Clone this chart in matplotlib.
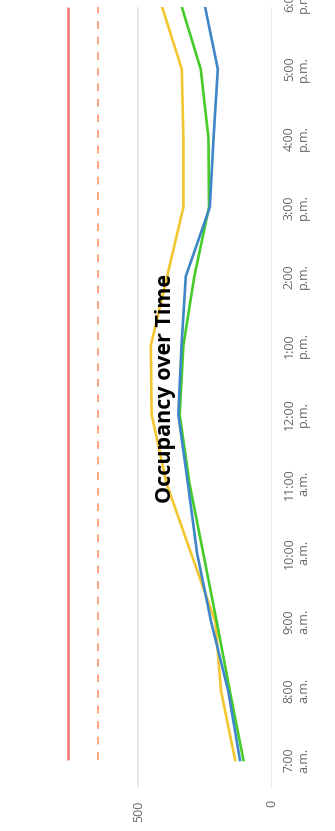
import matplotlib
matplotlib.use("Agg")
import matplotlib.pyplot as plt
from matplotlib.patches import Rectangle

# ---- data ----
hours = [7, 8, 9, 10, 11, 12, 13, 14, 15, 16, 17, 18]
time_labels = ["7:00\na.m.", "8:00\na.m.", "9:00\na.m.", "10:00\na.m.", "11:00\na.m.",
               "12:00\np.m.", "1:00\np.m.", "2:00\np.m.", "3:00\np.m.", "4:00\np.m.",
               "5:00\np.m.", "6:00\np.m."]
yellow = [137, 190, 211, 303, 394, 450, 453, 392, 331, 331, 337, 419]
blue = [119, 163, 227, 280, 314, 350, 338, 322, 232, 218, 202, 255]
green = [106, 157, 206, 257, 308, 345, 331, 290, 235, 237, 266, 345]
capacity = 765
threshold = 650
value_ticks = [0, 500]
value_tick_labels = ["0", "500"]
title = "Occupancy over Time"

W, H = 335, 831
fig = plt.figure(figsize=(W / 100, H / 100), dpi=100)

# layout in pixels
ax_right_px = 271.7
px_per_500 = 133.4
ax_bottom_px = 787
hour_px = 760 / 11.0
top_clip_px = 7

ax = fig.add_axes([0, 1 - ax_bottom_px / H, ax_right_px / W, ax_bottom_px / H])
xmax = ax_right_px / px_per_500 * 500
ax.set_xlim(xmax, 0)
ybot = hours[0] - (ax_bottom_px - 760) / hour_px
ytop = hours[-1]
ax.set_ylim(ybot, ytop)
vis_top = ytop - top_clip_px / hour_px

for s in ax.spines.values():
    s.set_visible(False)

# gridlines
for v in value_ticks:
    ax.vlines(v, ybot, vis_top, color="#e5e5e5", lw=1.2, zorder=0)

# reference lines
ax.vlines(capacity, hours[0], vis_top, color="#f07575", lw=1.8, zorder=2)
ax.vlines(threshold, hours[0], vis_top, color="#f9a57e", lw=1.4,
          linestyles=(0, (4, 4)), zorder=2)

clip = Rectangle((0, ybot), xmax, vis_top - ybot, transform=ax.transData)
for vals, col in [(yellow, "#f2c62f"), (green, "#45cc2a"), (blue, "#3f86c8")]:
    ln, = ax.plot(vals, hours, color=col, lw=1.9, solid_joinstyle="miter", zorder=3)
    ln.set_clip_path(clip)

lab_font = dict(family="Open Sans", size=9, color="#666666")
ax.set_xticks(value_ticks)
ax.set_xticklabels(value_tick_labels, rotation=90, va="top", ha="center", **lab_font)
ax.tick_params(axis="x", length=0, pad=9.5)

ax.yaxis.tick_right()
ax.set_yticks(hours)
ax.set_yticklabels(time_labels, rotation=90, va="center", ha="left",
                   multialignment="center", linespacing=1.15, **lab_font)
ax.tick_params(axis="y", length=0, pad=8)

fig.text(166 / W, 1 - 388 / H, title, rotation=90, ha="center", va="center",
         family="Open Sans", weight="bold", size=15.5, color="#000000")

fig.savefig("out.png", dpi=100)
